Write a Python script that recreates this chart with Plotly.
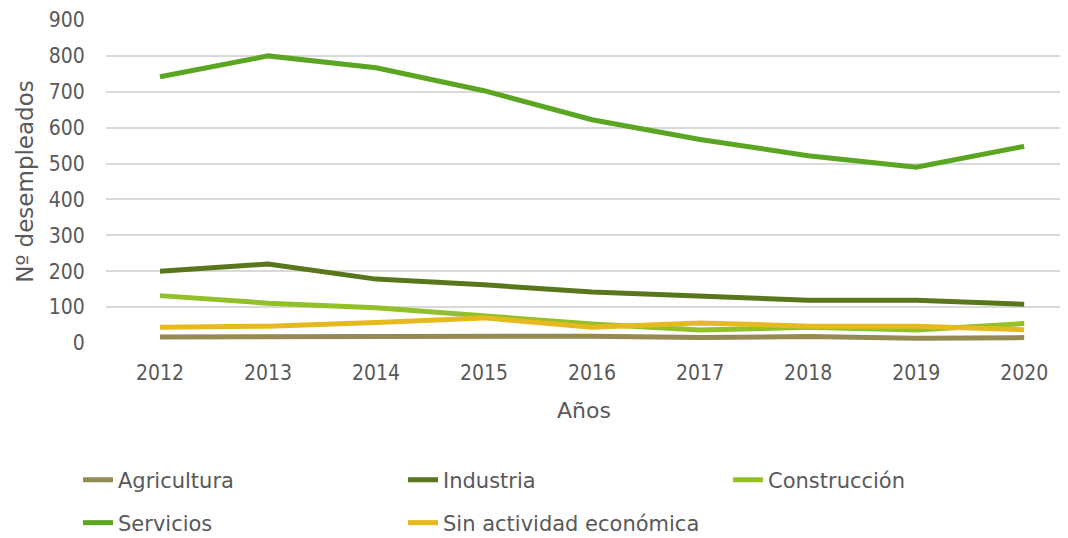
import plotly.graph_objects as go

years = [2012, 2013, 2014, 2015, 2016, 2017, 2018, 2019, 2020]
agricultura = [17, 17, 19, 20, 19, 15, 18, 13, 15]
industria = [200, 220, 178, 162, 142, 131, 119, 119, 108]
construccion = [132, 111, 98, 76, 53, 36, 44, 36, 54]
servicios = [742, 800, 767, 703, 622, 567, 522, 490, 548]
sin_actividad = [44, 47, 57, 70, 44, 56, 47, 47, 37]
y_ticks = [0, 100, 200, 300, 400, 500, 600, 700, 800, 900]

series = [
    ("Agricultura", agricultura, "#948A54", "legend"),
    ("Industria", industria, "#58761B", "legend"),
    ("Construcción", construccion, "#92C027", "legend3"),
    ("Servicios", servicios, "#5AA521", "legend2"),
    ("Sin actividad económica", sin_actividad, "#E6B91F", "legend2"),
]

TICKFONT = "DejaVu Sans Condensed"
TEXTFONT = "DejaVu Sans"
GREY = "#595959"

# the page body has an 8px margin, so the figure is drawn 8px smaller and offset
W, H = 1060, 530

fig = go.Figure()
for name, vals, color, leg in series:
    fig.add_trace(go.Scatter(
        x=years, y=vals, name=name, mode="lines",
        line=dict(color=color, width=5, shape="linear"),
        legend=leg,
    ))

legend_common = dict(
    orientation="h", xanchor="left", yanchor="middle",
    xref="container", yref="container",
    entrywidth=280, entrywidthmode="pixels",
    font=dict(family=TEXTFONT, size=21, color=GREY),
    bgcolor="rgba(0,0,0,0)", itemwidth=30,
)

fig.update_layout(
    width=W, height=H,
    margin=dict(l=98, r=6, t=12, b=195, autoexpand=False),
    paper_bgcolor="white", plot_bgcolor="white",
    font=dict(family=TEXTFONT, size=21, color=GREY),
    showlegend=True,
    legend=dict(x=70 / W, y=1 - 472 / H, **legend_common),
    legend3=dict(x=720 / W, y=1 - 472 / H, **legend_common),
    legend2=dict(x=70 / W, y=1 - 515 / H, **legend_common),
    xaxis=dict(
        range=[2011.5, 2020.35], tickvals=years, ticktext=[str(y) for y in years],
        showgrid=False, zeroline=False, showline=False, automargin=False,
        ticks="outside", ticklen=11, tickcolor="rgba(0,0,0,0)",
        tickfont=dict(family=TICKFONT, size=21, color=GREY),
        title=dict(text="Años", font=dict(family=TEXTFONT, size=22, color=GREY), standoff=18),
    ),
    yaxis=dict(
        range=[0, 900], tickvals=y_ticks,
        showgrid=True, gridcolor="#D9D9D9", gridwidth=1.5,
        zeroline=False, showline=False, automargin=False,
        ticks="outside", ticklen=16, tickcolor="rgba(0,0,0,0)",
        tickfont=dict(family=TICKFONT, size=21, color=GREY),
        title=dict(text="Nº desempleados", font=dict(family=TEXTFONT, size=23, color=GREY), standoff=8),
    ),
)

fig.write_html("out.html")
